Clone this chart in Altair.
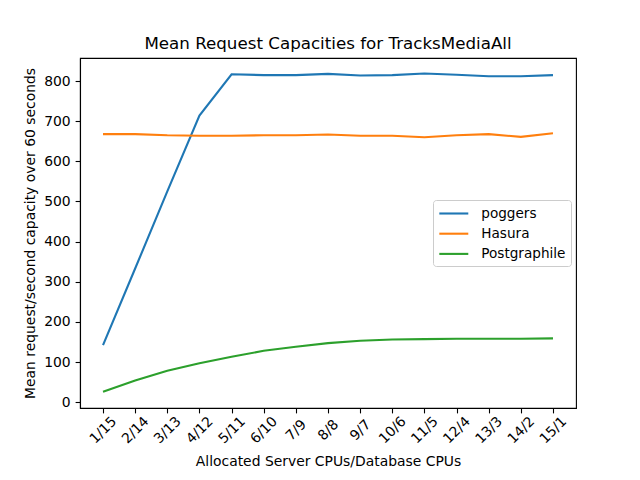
import altair as alt
import pandas as pd

categories = ["1/15", "2/14", "3/13", "4/12", "5/11", "6/10", "7/9", "8/8",
              "9/7", "10/6", "11/5", "12/4", "13/3", "14/2", "15/1"]
poggers = [142, 333, 525, 714, 817, 815, 815, 818, 814, 815, 819, 816, 812, 812, 815]
hasura = [668, 668, 665, 664, 664, 665, 665, 667, 664, 664, 660, 665, 668, 661, 670]
postgraphile = [26, 54, 78, 97, 113, 128, 138, 147, 153, 156, 157, 158, 158, 158, 159]
series_names = ["poggers", "Hasura", "Postgraphile"]
series_colors = ["#1f77b4", "#ff7f0e", "#2ca02c"]
y_ticks = [0, 100, 200, 300, 400, 500, 600, 700, 800]

rows = []
for name, vals in zip(series_names, [poggers, hasura, postgraphile]):
    for c, v in zip(categories, vals):
        rows.append({"config": c, "value": v, "series": name})
df = pd.DataFrame(rows)

FONT = "DejaVu Sans"

chart = alt.Chart(df).mark_line(strokeWidth=2.1).encode(
    x=alt.X("config:O", sort=categories,
            scale=alt.Scale(type="point", padding=0.716),
            axis=alt.Axis(title="Allocated Server CPUs/Database CPUs",
                          labelAngle=-45, labelAlign="center", labelBaseline="middle",
                          labelPadding=17, tickSize=4.9, labelFontSize=13.9,
                          titleFontSize=13.9, titleFontWeight="normal",
                          titleY=53, titleBaseline="middle")),
    y=alt.Y("value:Q", scale=alt.Scale(domain=[-14.6, 857.6], nice=False, zero=False),
            axis=alt.Axis(title="Mean request/second capacity over 60 seconds",
                          values=y_ticks, tickSize=4.9, labelPadding=4.9,
                          labelFontSize=13.9, titleFontSize=13.9,
                          titleFontWeight="normal", titleX=-50, titleBaseline="middle")),
    color=alt.Color("series:N", sort=series_names,
                    scale=alt.Scale(domain=series_names, range=series_colors),
                    legend=alt.Legend(title=None, orient="none", legendX=353, legendY=142,
                                      symbolType="M-2,0L2,0", symbolSize=210,
                                      symbolStrokeWidth=2.1, symbolOffset=7.3,
                                      labelFontSize=13.6,
                                      labelOffset=19, rowPadding=4.2, padding=5,
                                      strokeColor="#cccccc", fillColor="white",
                                      cornerRadius=3, labelFont=FONT)),
).properties(
    width=496, height=350,
    autosize=alt.AutoSizeParams(type="none"),
    padding={"left": 80, "top": 58, "right": 64, "bottom": 72},
    title=alt.Title("Mean Request Capacities for TracksMediaAll", fontSize=16.7,
                    fontWeight="normal", font=FONT, baseline="alphabetic", offset=-7.5),
).configure_view(
    stroke="black", strokeWidth=1.1
).configure_axis(
    grid=False, domainColor="black", tickColor="black", labelColor="black",
    titleColor="black", labelFont=FONT, titleFont=FONT, domainWidth=1.1, tickWidth=1.1
).configure_legend(
    labelColor="black"
)

chart.save("out.html", embed_options={"renderer": "svg", "actions": False})
